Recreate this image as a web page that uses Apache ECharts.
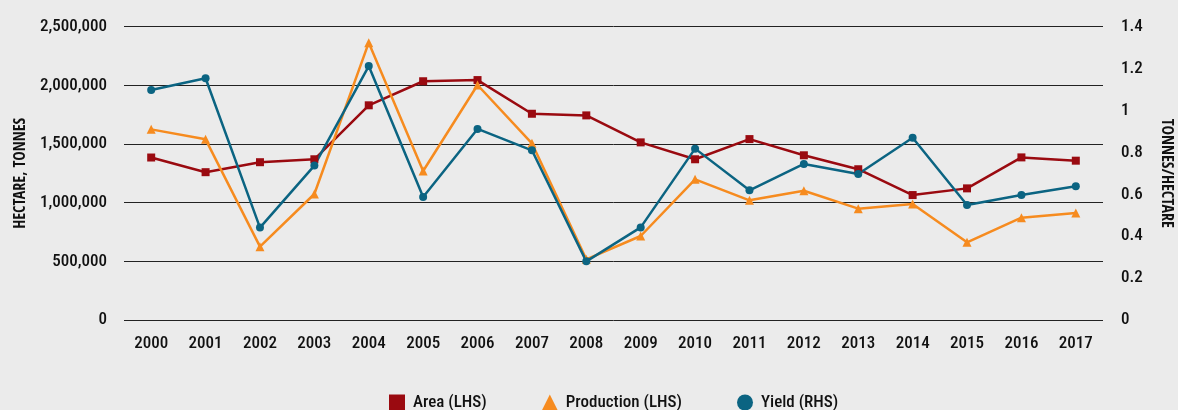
<!DOCTYPE html>
<html>
<head>
<meta charset="utf-8">
<style>
  html, body { margin: 0; padding: 0; background: #ebebeb; }
  #chart { width: 1178px; height: 410px; }
</style>
<script src="https://cdn.jsdelivr.net/npm/echarts@6/dist/echarts.min.js"></script>
</head>
<body>
<div id="chart"></div>
<script>
// Years along the horizontal axis
const years = ['2000','2001','2002','2003','2004','2005','2006','2007','2008',
               '2009','2010','2011','2012','2013','2014','2015','2016','2017'];

// Harvested area, hectares (left axis)
const area = [1385000, 1260000, 1345000, 1370000, 1830000, 2035000, 2045000, 1758000, 1744000,
              1514000, 1370000, 1542000, 1404000, 1285000, 1065000, 1122000, 1386000, 1358000];

// Production, tonnes (left axis)
const production = [1625000, 1540000, 625000, 1074000, 2364000, 1270000, 2003000, 1506000, 517000,
                    716000, 1199000, 1020000, 1102000, 949000, 989000, 662000, 872000, 912000];

// Yield, tonnes per hectare (right axis)
const yieldVals = [1.098, 1.154, 0.441, 0.737, 1.212, 0.587, 0.912, 0.810, 0.280,
                   0.442, 0.818, 0.619, 0.745, 0.697, 0.870, 0.549, 0.597, 0.638];

const FONT = '"Roboto Condensed", "DejaVu Sans Condensed", sans-serif';
const FONT_BOLD = '"Open Sans Condensed", "Roboto Condensed", sans-serif';
const C_AREA = '#9a0a10';
const C_PROD = '#f68b1f';
const C_YIELD = '#0b6482';

const chart = echarts.init(document.getElementById('chart'), null, { renderer: 'canvas' });

const fmtThousands = v => String(Math.round(v)).replace(/\B(?=(\d{3})+(?!\d))/g, ',');

const tickLabel = { fontFamily: FONT, fontSize: 17, fontWeight: 500, color: '#111' };
const axisName = { fontFamily: FONT_BOLD, fontSize: 16, fontWeight: 'bold', color: '#111' };

chart.setOption({
  backgroundColor: '#ebebeb',
  animation: false,
  textStyle: { fontFamily: FONT, color: '#111' },
  grid: { left: 124, right: 75, top: 26.7, bottom: 90, outerBoundsMode: 'none', containLabel: false },
  legend: {
    left: 389,
    top: 394,
    padding: 0,
    itemWidth: 16,
    itemHeight: 16,
    itemGap: 55,
    textStyle: Object.assign({}, tickLabel, { padding: [0, 0, 0, 3] }),
    data: [
      { name: 'Area (LHS)', icon: 'rect' },
      { name: 'Production (LHS)', icon: 'triangle' },
      { name: 'Yield (RHS)', icon: 'circle' }
    ]
  },
  xAxis: {
    type: 'category',
    data: years,
    boundaryGap: true,
    axisLine: { show: false },
    axisTick: { show: false },
    axisLabel: Object.assign({ interval: 0, margin: 15 }, tickLabel)
  },
  yAxis: [
    {
      type: 'value',
      min: 0, max: 2500000, interval: 500000,
      name: 'HECTARE, TONNES',
      nameLocation: 'middle',
      nameGap: 95,
      nameTextStyle: axisName,
      axisLine: { show: false },
      axisTick: { show: false },
      axisLabel: Object.assign({ margin: 17, formatter: fmtThousands }, tickLabel),
      splitLine: { show: true, lineStyle: { color: '#222', width: 1 } }
    },
    {
      type: 'value',
      min: 0, max: 1.4, interval: 0.2,
      name: 'TONNES/HECTARE',
      nameLocation: 'middle',
      nameRotate: -90,
      nameGap: 55,
      nameTextStyle: axisName,
      position: 'right',
      axisLine: { show: false },
      axisTick: { show: false },
      axisLabel: Object.assign({ margin: 18 }, tickLabel),
      splitLine: { show: false }
    }
  ],
  series: [
    {
      name: 'Area (LHS)', type: 'line', yAxisIndex: 0, data: area,
      symbol: 'rect', symbolSize: 8,
      lineStyle: { color: C_AREA, width: 2.5 },
      itemStyle: { color: C_AREA }
    },
    {
      name: 'Production (LHS)', type: 'line', yAxisIndex: 0, data: production,
      symbol: 'triangle', symbolSize: 9,
      lineStyle: { color: C_PROD, width: 2.5 },
      itemStyle: { color: C_PROD }
    },
    {
      name: 'Yield (RHS)', type: 'line', yAxisIndex: 1, data: yieldVals,
      symbol: 'circle', symbolSize: 8,
      lineStyle: { color: C_YIELD, width: 2.5 },
      itemStyle: { color: C_YIELD }
    }
  ]
});
</script>
</body>
</html>
